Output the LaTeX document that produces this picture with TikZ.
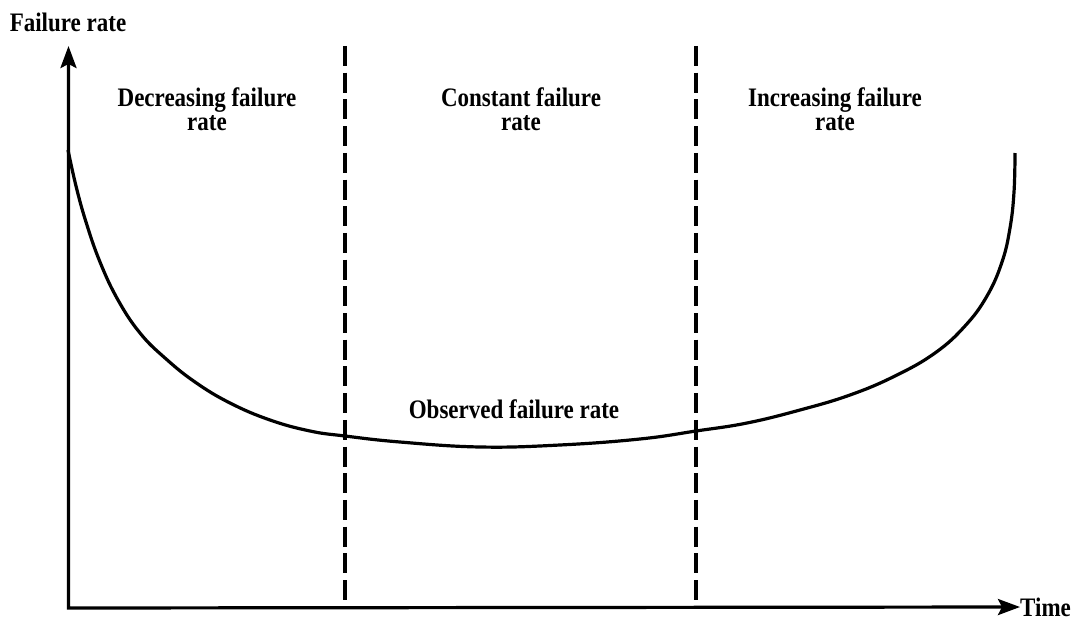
\documentclass[tikz,border=0pt]{standalone}
\usepackage{fontspec}
\setmainfont{Liberation Serif}
\usetikzlibrary{arrows.meta}

% slightly tall lettering
\newcommand\vstretch[1]{\scalebox{1}[1.16]{#1}}
\newcommand\twolines[2]{\vstretch{\begin{tabular}[t]{@{}c@{}}#1\\#2\end{tabular}}}

\begin{document}
\begin{tikzpicture}[x=1pt, y=1pt,
  >={Stealth[length=22pt, width=16pt, inset=4pt]},
  lbl/.style={font=\fontsize{23}{21}\selectfont\bfseries, inner sep=0pt},
  axis/.style={line width=3.2pt, line join=miter},
  divider/.style={line width=3.2pt, dash pattern=on 20pt off 6.7pt},
  ratecurve/.style={line width=3.2pt, line join=round, line cap=butt}]
\useasboundingbox (0,0) rectangle (1073,-618);

% axes
\coordinate (origin) at (68.5,-608);
\coordinate (ytop) at (68.5,-46);
\node[lbl, anchor=base] (ylabel) at (68,-31.5) {\vstretch{Failure rate}};
\node[lbl, anchor=west] (time) at (1020,-607) {\vstretch{Time}};
\draw[axis, <->] (ytop) -- (origin) -- (time.west);

% phase boundaries
\coordinate (d1top) at (345,-46);
\coordinate (d1bot) at (345,-600);
\coordinate (d2top) at (696,-46);
\coordinate (d2bot) at (696,-600);
\draw[divider] (d1top) -- (d1bot);
\draw[divider] (d2top) -- (d2bot);

% phase labels
\node[lbl, anchor=base] (early) at (207,-106.5) {\twolines{Decreasing failure}{rate}};
\node[lbl, anchor=base] (useful) at (521,-106.5) {\twolines{Constant failure}{rate}};
\node[lbl, anchor=base] (wearout) at (835,-106.5) {\twolines{Increasing failure}{rate}};

% bathtub curve
\draw[ratecurve] plot[smooth, tension=0.7] coordinates {
  (68,-150) (76,-186) (86,-222) (100,-262) (118,-300)
  (140,-333) (165,-358) (195,-382) (230,-403) (270,-420)
  (310,-431) (345,-436) (400,-442) (480,-447) (560,-445) (640,-439)
  (696,-431) (747,-423) (800,-410) (850,-395) (895,-376)
  (935,-353) (965,-326) (987,-296) (1002,-262) (1010,-228)
  (1014,-192) (1015,-153)};

\node[lbl, anchor=base] (observed) at (514,-418) {\vstretch{Observed failure rate}};
\end{tikzpicture}
\end{document}
